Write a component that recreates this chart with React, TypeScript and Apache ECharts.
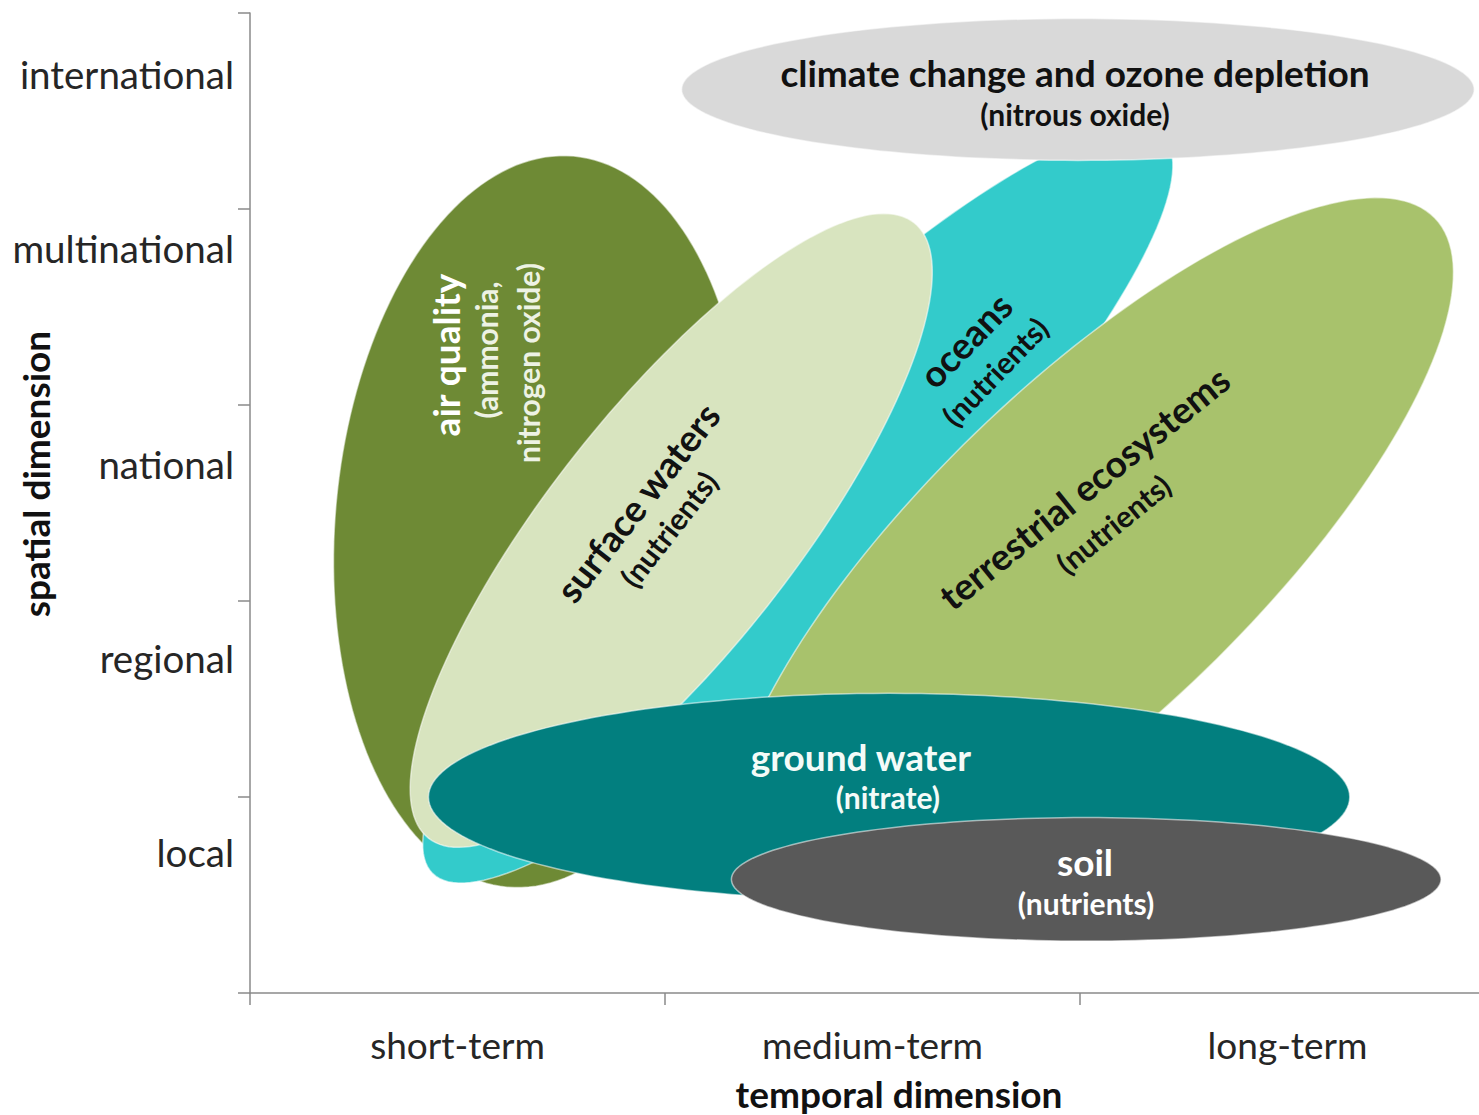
import React, { useEffect, useRef } from "react";
import * as echarts from "echarts";

// ---- data ----
const temporalCategories = ["short-term", "medium-term", "long-term"];
const spatialLabels = ["local", "regional", "national", "multinational", "international"];
const spatialLabelPos = [0.72, 1.71, 2.7, 3.8, 4.69];

const issueNames = [
  "air quality",
  "oceans",
  "terrestrial ecosystems",
  "surface waters",
  "climate change and ozone depletion",
  "ground water",
  "soil",
];
// major-axis end points of each ellipse, in (temporal, spatial) units
const issueFrom = [
  [0.62, 0.54],
  [0.44, 0.61],
  [1.193, 0.546],
  [0.43, 0.79],
  [1.04, 4.61],
  [0.43, 1.0],
  [1.16, 0.58],
];
const issueTo = [
  [0.78, 4.27],
  [2.2, 4.37],
  [2.855, 3.954],
  [1.6, 3.93],
  [2.95, 4.61],
  [2.65, 1.0],
  [2.87, 0.58],
];
// minor / major axis ratio
const issueRatio = [0.559, 0.232, 0.344, 0.312, 0.179, 0.225, 0.174];
const issueSub = [
  ["(ammonia,", "nitrogen oxide)"],
  ["(nutrients)"],
  ["(nutrients)"],
  ["(nutrients)"],
  ["(nitrous oxide)"],
  ["(nitrate)"],
  ["(nutrients)"],
];
// label anchor (title centre) in data units
const issueLabelAt = [
  [0.47, 3.255],
  [1.723, 3.332],
  [2.01, 2.577],
  [0.933, 2.505],
  [1.988, 4.694],
  [1.472, 1.209],
  [2.012, 0.673],
];

// ---- styles / layout ----
const FONT = 'Lato, "Open Sans", sans-serif';
const fillColors = ["#6e8a35", "#33cbcb", "#a8c26c", "#d8e4bf", "#d9d9d9", "#027f7f", "#595959"];
const titleColors = ["#ffffff", "#111111", "#111111", "#111111", "#111111", "#f4fbf8", "#ffffff"];
const subColors = ["#edf2e4", "#111111", "#111111", "#111111", "#111111", "#f4fbf8", "#ffffff"];
const labelRotation = [90, 46, 39, 52, 0, 0, 0];
const subOffsets = [
  [[5, 41], [-8, 83]],
  [[-2, 43]],
  [[0, 46]],
  [[-2, 41]],
  [[0, 41]],
  [[27, 41]],
  [[1, 42]],
];

function txt(text: string, x: number, y: number, size: number, weight: string, color: string, align = "center") {
  return {
    type: "text",
    x,
    y,
    style: {
      text,
      fill: color,
      fontSize: size,
      fontWeight: weight,
      fontFamily: FONT,
      align,
      textAlign: align,
      verticalAlign: "middle",
      textVerticalAlign: "middle",
    },
  };
}

export default function App() {
  const ref = useRef<HTMLDivElement>(null);
  useEffect(() => {
    if (!ref.current) return;
    const chart = echarts.init(ref.current, null, { renderer: "svg" });

    const axisColor = "#8a8a8a";

    const ellipseData = issueFrom.map((f, i) => [f[0], f[1], issueTo[i][0], issueTo[i][1], issueRatio[i]]);

    const renderEllipse = (params: any, api: any) => {
      const i = params.dataIndex;
      const p1 = api.coord([api.value(0), api.value(1)]);
      const p2 = api.coord([api.value(2), api.value(3)]);
      const cx = (p1[0] + p2[0]) / 2;
      const cy = (p1[1] + p2[1]) / 2;
      const dx = p2[0] - p1[0];
      const dy = p2[1] - p1[1];
      const a = Math.hypot(dx, dy) / 2;
      const b = a * api.value(4);
      const ux = dx / (2 * a);
      const uy = dy / (2 * a);
      const nx = -uy;
      const ny = ux;
      const pts: number[][] = [];
      const N = 180;
      for (let k = 0; k < N; k++) {
        const t = (2 * Math.PI * k) / N;
        const ca = a * Math.cos(t);
        const sb = b * Math.sin(t);
        pts.push([cx + ca * ux + sb * nx, cy + ca * uy + sb * ny]);
      }
      return {
        type: "polygon",
        shape: { points: pts },
        style: { fill: fillColors[i], stroke: "rgba(255,255,255,0.55)", lineWidth: 1.5 },
      };
    };

    const renderLabel = (params: any, api: any) => {
      const i = params.dataIndex;
      const p = api.coord([api.value(0), api.value(1)]);
      const children: any[] = [txt(issueNames[i], 0, 0, 37, "bold", titleColors[i])];
      issueSub[i].forEach((s, j) => {
        const o = subOffsets[i][j];
        children.push(txt(s, o[0], o[1], 30, "bold", subColors[i]));
      });
      return {
        type: "group",
        x: p[0],
        y: p[1],
        rotation: (labelRotation[i] * Math.PI) / 180,
        children,
      };
    };

    const renderYLabel = (params: any, api: any) => {
      const i = params.dataIndex;
      const p = api.coord([0, api.value(1)]);
      return txt(spatialLabels[i], p[0] - 16, p[1], 38.5, "normal", "#262626", "right");
    };

    chart.setOption({
      animation: false,
      backgroundColor: "#ffffff",
      grid: { left: 250, top: 13, width: 1245, height: 980, containLabel: false, outerBoundsMode: "none" },
      xAxis: [
        {
          type: "category",
          data: temporalCategories,
          boundaryGap: true,
          axisLine: { show: true, lineStyle: { color: axisColor, width: 1.5 } },
          axisTick: { show: true, length: 12, alignWithLabel: false, lineStyle: { color: axisColor, width: 1.5 } },
          axisLabel: { margin: 33, fontSize: 37, fontFamily: FONT, color: "#262626" },
          splitLine: { show: false },
        },
        { type: "value", min: 0, max: 3, show: false },
      ],
      yAxis: {
        type: "value",
        min: 0,
        max: 5,
        interval: 1,
        axisLine: { show: true, lineStyle: { color: axisColor, width: 1.5 } },
        axisTick: { show: true, length: 12, lineStyle: { color: axisColor, width: 1.5 } },
        axisLabel: { show: false },
        splitLine: { show: false },
      },
      graphic: [
        {
          type: "text",
          x: 899,
          y: 1093,
          style: {
            text: "temporal dimension",
            fill: "#111111",
            fontSize: 37,
            fontWeight: "bold",
            fontFamily: FONT,
            align: "center",
            textAlign: "center",
            verticalAlign: "middle",
            textVerticalAlign: "middle",
          },
        },
        {
          type: "text",
          x: 35,
          y: 474,
          rotation: Math.PI / 2,
          style: {
            text: "spatial dimension",
            fill: "#111111",
            fontSize: 37,
            fontWeight: "bold",
            fontFamily: FONT,
            align: "center",
            textAlign: "center",
            verticalAlign: "middle",
            textVerticalAlign: "middle",
          },
        },
      ],
      series: [
        {
          type: "custom",
          name: "issues",
          xAxisIndex: 1,
          yAxisIndex: 0,
          renderItem: renderEllipse,
          encode: { x: [0, 2], y: [1, 3] },
          data: ellipseData,
          z: 2,
        },
        {
          type: "custom",
          name: "labels",
          xAxisIndex: 1,
          yAxisIndex: 0,
          renderItem: renderLabel,
          encode: { x: 0, y: 1 },
          data: issueLabelAt,
          z: 3,
        },
        {
          type: "custom",
          name: "spatial",
          xAxisIndex: 1,
          yAxisIndex: 0,
          renderItem: renderYLabel,
          encode: { x: 0, y: 1 },
          data: spatialLabelPos.map((v) => [0, v]),
          z: 3,
        },
      ],
    });
    return () => chart.dispose();
  }, []);
  return (
    <div
      ref={ref}
      style={{ position: "absolute", left: 0, top: 0, width: 1479, height: 1115 }}
    />
  );
}
